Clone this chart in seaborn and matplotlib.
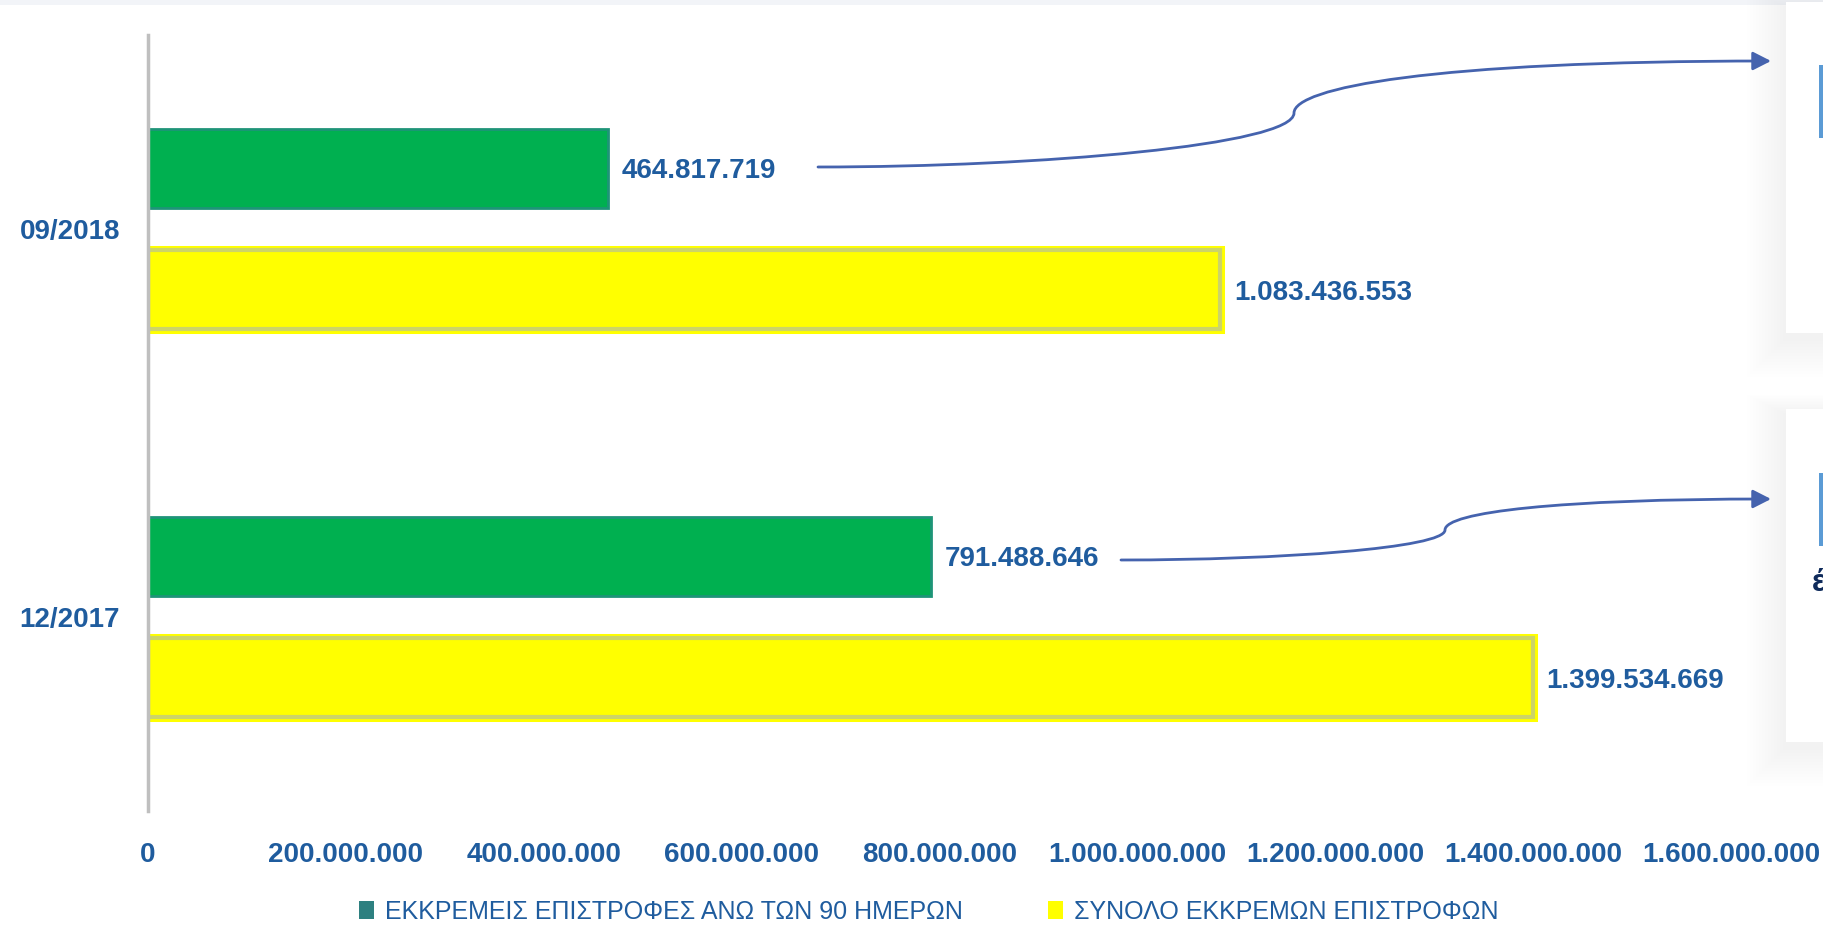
# Pending VAT returns - horizontal bar chart
import pandas as pd
import seaborn as sns
import matplotlib.pyplot as plt
import matplotlib.patheffects as pe
from matplotlib import transforms
from matplotlib.patches import Rectangle, Patch, FancyArrowPatch
from matplotlib.path import Path
from matplotlib.ticker import FuncFormatter

# data
periods = ['09/2018', '12/2017']
series = ['ΕΚΚΡΕΜΕΙΣ ΕΠΙΣΤΡΟΦΕΣ ΑΝΩ ΤΩΝ 90 ΗΜΕΡΩΝ', 'ΣΥΝΟΛΟ ΕΚΚΡΕΜΩΝ ΕΠΙΣΤΡΟΦΩΝ']
over_90_days = [464817719, 791488646]
total_pending = [1083436553, 1399534669]
x_ticks = [0, 200000000, 400000000, 600000000, 800000000,
           1000000000, 1200000000, 1400000000, 1600000000]

data = pd.DataFrame({
    'period': periods * 2,
    'series': [series[0]] * 2 + [series[1]] * 2,
    'value': over_90_days + total_pending,
})

GREEN = '#00B050'
YELLOW = '#FFFF00'
TEXT = '#1F5C9E'
ARROW = '#4563AE'

sns.set_style('white')
plt.rcParams['font.family'] = ['Liberation Sans', 'DejaVu Sans']

W, H = 1823, 950
fig = plt.figure(figsize=(W / 100, H / 100), dpi=100)
ax = fig.add_axes([148 / W, 1 - 811 / H, (1731 - 148) / W, (811 - 35) / H])
# pixel coordinates (origin top-left) for the decorations
px = transforms.Affine2D().scale(1 / W, -1 / H).translate(0, 1) + fig.transFigure

sns.barplot(data=data, y='period', x='value', hue='series', order=periods,
            hue_order=series, palette=[GREEN, YELLOW], saturation=1,
            width=0.624, gap=0.34, errorbar=None, orient='y', legend=False, ax=ax)

fmt = lambda v: f'{v:,.0f}'.replace(',', '.')

for i, bars in enumerate(ax.containers):
    for bar in bars:
        if i == 0:
            bar.set_edgecolor('#1E9478')
            bar.set_linewidth(2)
        else:
            bar.set_edgecolor('#CCD468')
            bar.set_linewidth(3)
            bar.set_path_effects([pe.Stroke(linewidth=6.5, foreground=YELLOW), pe.Normal()])
    labels = ax.bar_label(bars, labels=[fmt(v) for v in bars.datavalues], padding=10,
                          color=TEXT, fontsize=20, fontweight='bold')
    for t in labels:
        t.set_va('center_baseline')

ax.set_xlim(0, 1600000000)
ax.set_ylim(1.5, -0.5)
ax.set_xticks(x_ticks)
ax.xaxis.set_major_formatter(FuncFormatter(lambda v, p: fmt(v)))
ax.set_xlabel('')
ax.set_ylabel('')
ax.tick_params(axis='both', length=0, labelcolor=TEXT, labelsize=20)
ax.tick_params(axis='x', pad=22)
ax.tick_params(axis='y', pad=20)
for lbl in ax.get_xticklabels() + ax.get_yticklabels():
    lbl.set_fontweight('bold')

sns.despine(ax=ax, bottom=True)
ax.spines['left'].set_color('#BFBFBF')
ax.spines['left'].set_linewidth(2.5)

handles = [Patch(facecolor='#2E8080', edgecolor='none'),
           Patch(facecolor=YELLOW, edgecolor='none')]
fig.legend(handles, series, loc='center', bbox_to_anchor=(929 / W, 1 - 912 / H),
           ncol=2, frameon=False, fontsize=18, labelcolor=TEXT,
           handlelength=0.6, handleheight=0.75, handletextpad=0.45, columnspacing=3.4)

# light strip on top
fig.add_artist(Rectangle((0, 0), W, 5, transform=px, facecolor='#F2F4F8',
                         edgecolor='none', zorder=1))

# cropped side panels with soft shadow
for top, bottom, b0, b1 in [(2, 333, 65, 138), (409, 742, 473, 546)]:
    for k in range(1, 14):
        s = k * 3
        fig.add_artist(Rectangle((1786 - s, top - s * 0.5 + 5), 100, bottom - top + s * 1.5,
                                 transform=px, facecolor='black', edgecolor='none',
                                 alpha=0.0045, zorder=2))
    fig.add_artist(Rectangle((1786, top), 100, bottom - top, transform=px,
                             facecolor='white', edgecolor='none', zorder=3))
    fig.add_artist(Rectangle((1819, b0), 10, b1 - b0, transform=px,
                             facecolor='#5B9BD5', edgecolor='none', zorder=4))
fig.text(1812, 583, 'έ', transform=px, ha='left', va='center', fontsize=22,
         fontweight='bold', color='#0F2B5B', zorder=4)

# curved connector arrows
codes = [Path.MOVETO] + [Path.CURVE4] * 6
arrow_paths = [
    [(818, 167), (1040, 167), (1294, 145), (1294, 113), (1294, 88), (1430, 61), (1771, 61)],
    [(1121, 560), (1280, 560), (1445, 548), (1445, 530), (1445, 512), (1560, 499), (1771, 499)],
]
for verts in arrow_paths:
    arrow = FancyArrowPatch(path=Path(verts, codes), transform=px,
                            arrowstyle='-|>,head_length=0.55,head_width=0.28',
                            mutation_scale=20, color=ARROW, linewidth=2, zorder=5)
    fig.add_artist(arrow)

fig.savefig('out.png', dpi=100)
